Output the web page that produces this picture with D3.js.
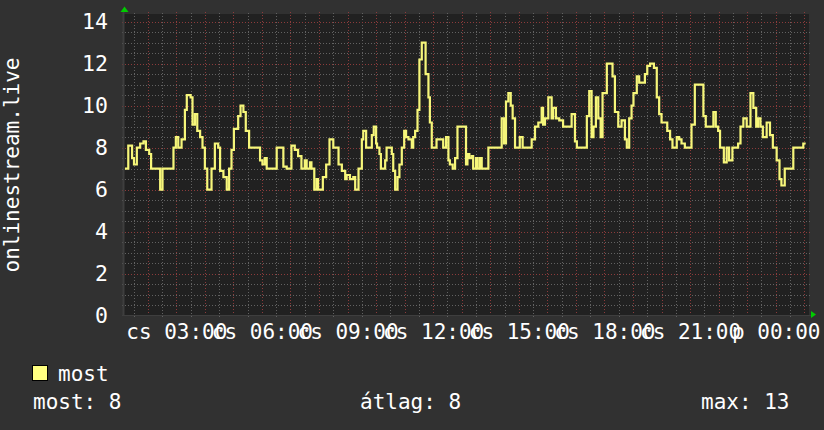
<!DOCTYPE html>
<html><head><meta charset="utf-8">
<script src="https://cdn.jsdelivr.net/npm/d3@7"></script>
<style>
html,body{margin:0;padding:0;background:#313131;}
svg{display:block;}
text{font-family:"DejaVu Sans Mono",monospace;font-size:21px;fill:#ffffff;}
</style></head>
<body>
<svg id="chart" width="824" height="430"></svg>
<script>
// ---- data (minutes since Thursday 00:00, value) ----
const minutes = [
72,79,87,91,97,104,111,116,123,127,146,151,174,179,184,191,198,202,210,214,
219,224,230,235,240,245,254,261,268,272,279,286,291,296,301,310,315,321,326,333,
356,361,366,370,391,405,412,422,429,436,443,450,454,461,464,470,475,478,488,495,
502,510,521,528,535,538,545,552,556,563,
570,573,579,591,595,600,602,607,610,619,622,633,636,640,645,649,654,659,663,668,
675,678,682,687,691,696,704,710,713,717,727,741,747,752,755,761,766,771,789,792,
796,801,804,810,813,818,822,836,864,869,873,878,883,887,892,902,908,927,934,941,
948,951,955,962,969,972,978,985,993,1011,1018,1022,
1043,1048,1053,1057,1062,1067,1072,1076,1085,1097,1102,1109,1116,1123,1127,1132,1137,1141,1148,1153,
1165,1170,1176,1184,1190,1195,1200,1212,1218,1223,1232,1237,1242,1249,1263,1270,1288,1293,1309,1314,
1319,1323,1331,1337,1342,1349,1361,1366,1372,1379,1387,1393,1399,1403,1408,1413,1421,1428,1434,1442,
1448,1452,1459,1477,1498,1503
];
const values = [
7,8.1,7.5,7.2,8,8.2,8.3,7.9,7.7,7,6,7,8,8.5,8,8.4,9.8,10.5,10.4,9.1,
9.6,8.8,8.5,8,7,6,7,8.2,8,6.9,6.6,6,7,7.9,8.9,9.5,10,9.7,8.8,8,
7.4,7.2,7.5,7,8,7.1,7,8.1,7.9,7.6,7,7.4,7,7.3,7,6,6.5,6,6.6,7.2,
8.4,8,7.2,6.9,6.5,6.7,6.5,6.6,6,7,
8.4,8.8,8,8.6,9,8.2,8,7.7,7,7.4,8,7.7,6.9,6,6.6,7.2,8,8.8,8.5,8.4,
8,8.5,8.8,9.8,12.2,13,11.5,10.4,9.2,8,8.4,8,8.5,7.4,7.2,7,7.5,9,7.2,7.7,
7.5,7.6,7,7.5,7,7.5,7,8,9.4,8.2,10.2,10.6,10,9.4,8,8.5,8,8.4,9,9.2,
9.9,9.1,9.4,10.4,9.4,9.9,9.4,9.3,9,9.6,8.3,8,
9.5,10.7,8.5,9,10.4,9.4,8.5,10.6,12,11.4,9.7,9,9.3,8.4,8,9.4,10,10.6,11.4,11.1,
11.5,11.9,12,11.8,10.4,9.6,9.2,8.8,8.4,8,8.5,8.4,8.2,8,9.1,11,9.5,9,9.7,9,
8.8,8,7.3,8,7.4,8,8.2,9,9.4,9,10.6,9.9,9,9.4,9,8.5,9.2,8.6,8,7.4,
6.5,6.2,7,8,8.2,8.2
];
const seriesName = "most";
const yTicks = [0,2,4,6,8,10,12,14];
const xTickHours = [3,6,9,12,15,18,21,24];
const xTickLabels = ["cs 03:00","cs 06:00","cs 09:00","cs 12:00","cs 15:00","cs 18:00","cs 21:00","p 00:00"];
const yTitle = "onlinestream.live";
const legendStats = [["most:", "8"], ["átlag:", "8"], ["max:", "13"]];
const domainStartMin = 70, domainEndMin = 1510;

// ---- layout ----
const base = new Date(2024, 0, 4, 0, 0, 0); // a Thursday
const t = m => new Date(base.getTime() + m * 60000);
const L = 124, R = 809, T = 14, B = 316;
const svg = d3.select("#chart");
svg.append("rect").attr("width", 824).attr("height", 430).attr("fill", "#313131");
svg.append("rect").attr("x", L).attr("y", T).attr("width", R - L).attr("height", B - T).attr("fill", "#212121");

const x = d3.scaleTime().domain([t(domainStartMin), t(domainEndMin)]).range([L, R]);
const y = d3.scaleLinear().domain([0, 14]).range([315.7, 21.7]);

// grid
const grid = svg.append("g");
const minorX = d3.timeMinute.every(30).range(t(domainStartMin), t(domainEndMin)).filter(d => d.getMinutes() !== 0);
const majorX = d3.timeHour.every(1).range(t(domainStartMin), t(domainEndMin));
const minorCol = "#626262", majorCol = "#8c3b3b";
grid.selectAll(".vmin").data(minorX).join("line")
  .attr("x1", d => Math.round(x(d)) + 0.5).attr("x2", d => Math.round(x(d)) + 0.5)
  .attr("y1", T - 1).attr("y2", B + 1)
  .attr("stroke", minorCol).attr("stroke-dasharray", "1,2");
const minorY = d3.range(0.5, 14.01, 0.5).filter(v => v % 2 !== 0);
grid.selectAll(".hmin").data(minorY).join("line")
  .attr("y1", d => Math.round(y(d)) + 0.5).attr("y2", d => Math.round(y(d)) + 0.5)
  .attr("x1", L - 2).attr("x2", R + 3)
  .attr("stroke", minorCol).attr("stroke-dasharray", "1,2");
grid.selectAll(".vmaj").data(majorX).join("line")
  .attr("x1", d => Math.round(x(d)) + 0.5).attr("x2", d => Math.round(x(d)) + 0.5)
  .attr("y1", T - 2).attr("y2", B + 2)
  .attr("stroke", majorCol).attr("stroke-dasharray", "1,2");
grid.selectAll(".hmaj").data(yTicks.filter(v => v > 0)).join("line")
  .attr("y1", d => Math.round(y(d)) + 0.5).attr("y2", d => Math.round(y(d)) + 0.5)
  .attr("x1", L - 2).attr("x2", R + 3)
  .attr("stroke", majorCol).attr("stroke-dasharray", "1,2");

// axis lines
svg.append("line").attr("x1", L - 0.5).attr("x2", L - 0.5).attr("y1", T - 2).attr("y2", B).attr("stroke", "#3e3e3e").attr("stroke-width", 2);
svg.append("line").attr("x1", L - 2).attr("x2", R + 3).attr("y1", 315.5).attr("y2", 315.5).attr("stroke", "#3e3e3e").attr("stroke-width", 1);

// arrows
svg.append("path").attr("d", d3.line()([[L - 3.5, 12], [L + 0.5, 6.5], [L + 4.5, 12]]) + "Z").attr("fill", "#00cc00");
svg.append("path").attr("d", d3.line()([[R + 2, 311], [R + 7, 314.5], [R + 2, 318]]) + "Z").attr("fill", "#00cc00");

// data line
const pts = minutes.map((m, i) => [t(m), values[i]]);
svg.append("path").datum(pts)
  .attr("d", d3.line().x(d => x(d[0])).y(d => y(d[1])).curve(d3.curveStepAfter))
  .attr("fill", "none").attr("stroke", "#f6f67a").attr("stroke-width", 2.2).attr("stroke-linejoin", "miter");

// y axis labels
const yAxis = d3.axisLeft(y).tickValues(yTicks).tickSize(0).tickPadding(16).tickFormat(d3.format("d"));
const gy = svg.append("g").attr("transform", `translate(${L},0)`).call(yAxis);
gy.select(".domain").remove();
gy.selectAll("text").attr("fill", "#fff").style("font-size", "21.5px").style("font-family", "DejaVu Sans Mono").attr("dy", "0.3em");

// x axis labels
const xAxis = d3.axisBottom(x).tickValues(xTickHours.map(h => t(h * 60))).tickSize(0).tickPadding(8)
  .tickFormat((d, i) => xTickLabels[i]);
const gx = svg.append("g").attr("transform", `translate(0,315.7)`).call(xAxis);
gx.select(".domain").remove();
gx.selectAll("text").attr("fill", "#fff").style("font-size", "21px").style("font-family", "DejaVu Sans Mono");

// y title
svg.append("text").attr("transform", "translate(18.5,165) rotate(-90)").attr("text-anchor", "middle").text(yTitle);

// legend
svg.append("rect").attr("x", 32.5).attr("y", 365.5).attr("width", 15).attr("height", 15)
  .attr("fill", "#ffff80").attr("stroke", "#000").attr("stroke-width", 1);
svg.append("text").attr("x", 58).attr("y", 380.5).text(seriesName);
const statX = [33, 360, 701];
legendStats.forEach((s, i) => {
  svg.append("text").attr("x", statX[i]).attr("y", 408.5).attr("xml:space", "preserve").text(s[0] + " " + s[1]);
});
</script>
</body></html>
